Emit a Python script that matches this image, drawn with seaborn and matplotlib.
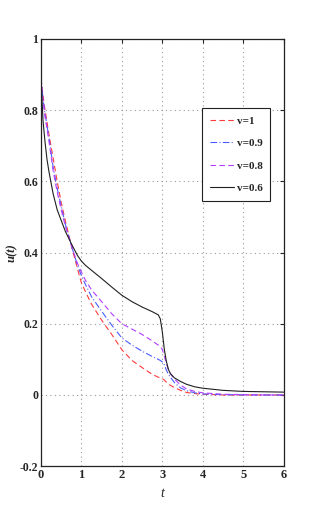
import matplotlib
matplotlib.use("Agg")
import matplotlib.pyplot as plt
import seaborn as sns
import pandas as pd

t = [0, 0.05, 0.1, 0.15, 0.2, 0.3, 0.4, 0.5, 0.6, 0.75, 0.9, 1.0, 1.1, 1.25, 1.5, 1.75, 2.0, 2.25, 2.5, 2.75,
     2.9, 2.95, 3.0, 3.05, 3.1, 3.15, 3.2, 3.3, 3.45, 3.6, 3.8, 4.0, 4.5, 5.0, 5.5, 6.0]
u_v1 = [0.89, 0.84, 0.80, 0.765, 0.73, 0.665, 0.60, 0.54, 0.49, 0.42, 0.355, 0.315, 0.29, 0.255, 0.21, 0.17, 0.127,
        0.097, 0.077, 0.058, 0.05, 0.048, 0.046, 0.042, 0.036, 0.031, 0.027, 0.021, 0.013, 0.007, 0.004, 0.002,
        0.0, 0.0, 0.0, 0.0]
u_v09 = [0.89, 0.83, 0.79, 0.755, 0.72, 0.64, 0.58, 0.53, 0.48, 0.42, 0.365, 0.335, 0.31, 0.276, 0.235, 0.196, 0.16,
         0.14, 0.123, 0.108, 0.10, 0.097, 0.093, 0.085, 0.07, 0.058, 0.05, 0.035, 0.02, 0.012, 0.006, 0.003,
         0.001, 0.0, 0.0, 0.0]
u_v08 = [0.89, 0.83, 0.78, 0.745, 0.71, 0.63, 0.57, 0.52, 0.475, 0.42, 0.37, 0.345, 0.322, 0.295, 0.262, 0.228, 0.20,
         0.185, 0.17, 0.152, 0.14, 0.136, 0.128, 0.11, 0.088, 0.072, 0.06, 0.045, 0.028, 0.017, 0.01, 0.006,
         0.002, 0.001, 0.0, 0.0]
u_v06 = [0.89, 0.77, 0.71, 0.66, 0.625, 0.565, 0.52, 0.49, 0.46, 0.425, 0.392, 0.376, 0.364, 0.35, 0.327, 0.303, 0.28,
         0.262, 0.247, 0.234, 0.225, 0.214, 0.178, 0.128, 0.095, 0.072, 0.06, 0.048, 0.038, 0.03, 0.023, 0.019,
         0.013, 0.010, 0.009, 0.008]
labels = ["v=1", "v=0.9", "v=0.8", "v=0.6"]
xticks = [0, 1, 2, 3, 4, 5, 6]
yticks = [-0.2, 0, 0.2, 0.4, 0.6, 0.8, 1]
ytick_labels = ["-0.2", "0", "0.2", "0.4", "0.6", "0.8", "1"]

sns.set_style("white")
plt.rcParams["font.family"] = ["Liberation Serif", "DejaVu Serif"]

fig = plt.figure(figsize=(3.13, 5.25), dpi=100)
ax = fig.add_axes([0.131, 0.112, 0.775, 0.814])

series = [u_v1, u_v09, u_v08, u_v06]
colors = ["#ff3b3b", "#4a5cff", "#b33cff", "#202020"]
styles = [(0, (5, 3)), (0, (6, 2, 1, 2)), (0, (5, 3)), "-"]
for vals, lab, c, ls in zip(series, labels, colors, styles):
    df = pd.DataFrame({"t": t, "u": vals})
    sns.lineplot(data=df, x="t", y="u", ax=ax, color=c, linestyle=ls, linewidth=0.8, label=lab)

ax.set_xlim(0, 6)
ax.set_ylim(-0.2, 1)
ax.set_xticks(xticks)
ax.set_xticklabels([str(x) for x in xticks], fontsize=9, fontweight="bold")
ax.set_yticks(yticks)
ax.set_yticklabels(ytick_labels, fontsize=8.5, fontweight="bold")
ax.tick_params(direction="in", length=3, width=0.8, top=True, right=True, pad=2)
ax.grid(True, linestyle=(0, (1, 3)), color="#9a9a9a", linewidth=0.8)
for s in ax.spines.values():
    s.set_color("#222222")
    s.set_linewidth(0.9)
ax.set_xlabel("t", fontsize=10, fontstyle="italic", labelpad=4)
ax.set_ylabel("u(t)", fontsize=9, fontstyle="italic", fontweight="bold", labelpad=2)
ax.yaxis.set_label_coords(-0.095, 0.5)

leg = ax.legend(loc="upper left", bbox_to_anchor=(0.664, 0.838), borderaxespad=0, fontsize=8,
                frameon=True, fancybox=False, edgecolor="#222222", framealpha=1,
                handlelength=2.2, labelspacing=1.15, borderpad=0.7, handletextpad=0.2)
leg.get_frame().set_linewidth(0.8)
for tx in leg.get_texts():
    tx.set_fontweight("bold")

fig.savefig("out.png", dpi=100)
